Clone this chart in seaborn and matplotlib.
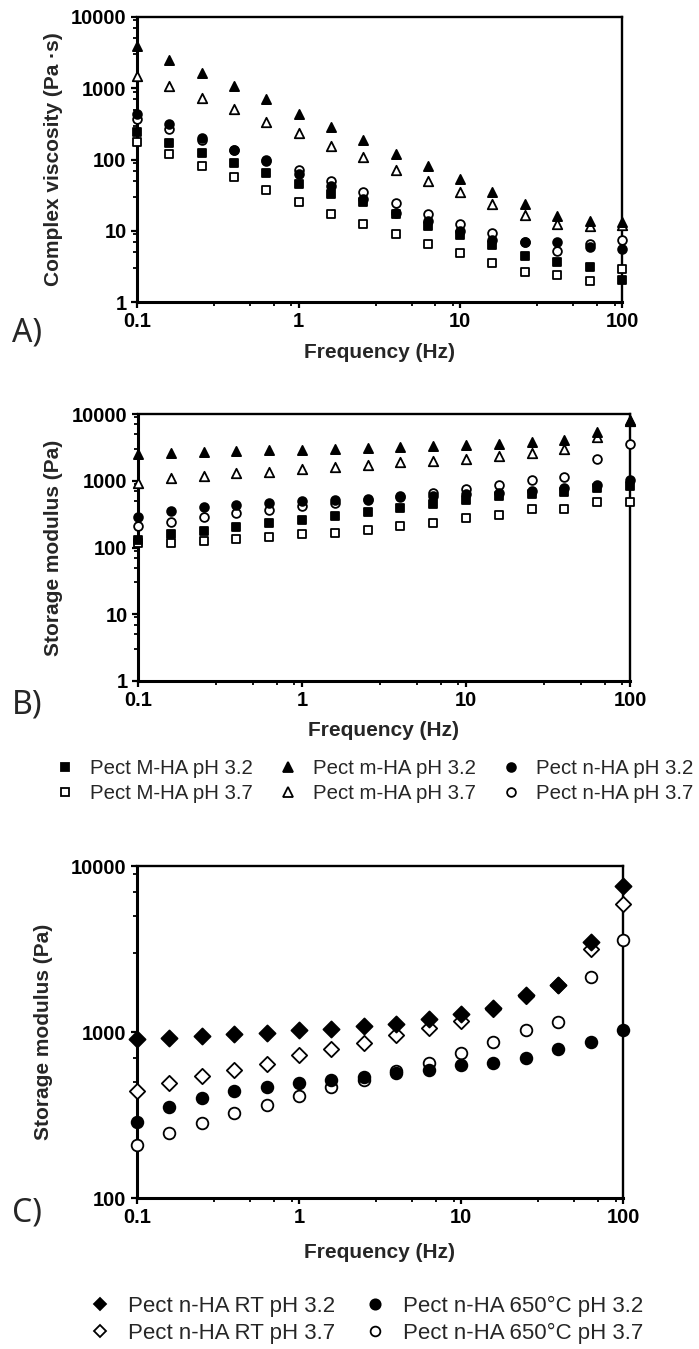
import matplotlib
matplotlib.use("Agg")
import matplotlib.pyplot as plt
import seaborn as sns
from matplotlib.ticker import LogLocator, NullFormatter
from matplotlib.lines import Line2D

# ---------------- data ----------------
freq = [0.1, 0.158, 0.251, 0.398, 0.631, 1.0, 1.58, 2.51, 3.98, 6.31,
        10.0, 15.8, 25.1, 39.8, 63.1, 100.0]

# Panel A: complex viscosity (Pa s)
A_MHA_32 = [244, 173, 123, 88, 64, 46, 33, 25, 17, 11.8, 8.6, 6.3, 4.4, 3.7, 3.1, 2.05]
A_MHA_37 = [177, 121, 81, 56, 37.7, 25.6, 17.2, 12.5, 9.0, 6.5, 4.9, 3.5, 2.6, 2.36, 2.0, 2.9]
A_mHA_32 = [3900, 2520, 1650, 1070, 698, 440, 286, 186, 121, 80, 53, 35, 24, 16, 13.8, 13.4]
A_mHA_37 = [1480, 1070, 736, 505, 340, 233, 155, 107, 72, 50, 34.5, 23.7, 16.8, 12.5, 11.6, 12.2]
A_nHA_32 = [440, 312, 203, 136, 98, 62, 43, 28, 18, 13.9, 10, 7.3, 6.9, 6.9, 5.9, 5.6]
A_nHA_37 = [366, 265, 186, 136, 96, 71, 50, 34.5, 24.5, 17.2, 12.5, 9.3, 6.9, 5.2, 6.5, 7.3]

# Panel B: storage modulus (Pa)
B_MHA_32 = [130, 160, 179, 206, 231, 259, 301, 337, 387, 450, 517, 593, 628, 690, 774, 839]
B_MHA_37 = [116, 118, 125, 134, 146, 158, 167, 183, 213, 236, 281, 304, 379, 379, 488, 488]
B_mHA_32 = [2500, 2600, 2650, 2750, 2850, 2900, 3000, 3100, 3150, 3300, 3400, 3600, 3750, 4100, 5300, 8200]
B_mHA_37 = [920, 1090, 1185, 1300, 1360, 1490, 1600, 1730, 1880, 1950, 2110, 2310, 2590, 2980, 4520, 7760]
B_nHA_32 = [288, 355, 400, 439, 464, 492, 515, 533, 565, 589, 631, 655, 701, 787, 871, 1023]
B_nHA_37 = [209, 245, 282, 324, 365, 413, 468, 515, 583, 655, 752, 871, 1023, 1148, 2138, 3565]

# Panel C: storage modulus (Pa)
C_RT_32 = [903, 916, 946, 968, 991, 1023, 1047, 1086, 1112, 1191, 1276, 1387, 1660, 1932, 3485, 7620]
C_RT_37 = [439, 490, 540, 591, 646, 724, 787, 863, 955, 1060, 1165, 1380, 1650, 1925, 3177, 5915]
C_650_32 = [288, 355, 400, 439, 464, 492, 515, 533, 565, 589, 631, 655, 701, 787, 871, 1023]
C_650_37 = [209, 245, 282, 324, 365, 413, 468, 515, 583, 655, 752, 871, 1023, 1148, 2138, 3565]

labels_AB = ["Pect M-HA pH 3.2", "Pect M-HA pH 3.7", "Pect m-HA pH 3.2",
             "Pect m-HA pH 3.7", "Pect n-HA pH 3.2", "Pect n-HA pH 3.7"]
labels_C = ["Pect n-HA RT pH 3.2", "Pect n-HA RT pH 3.7",
            "Pect n-HA 650°C pH 3.2", "Pect n-HA 650°C pH 3.7"]

x_ticks = [0.1, 1, 10, 100]
x_ticklabels = ["0.1", "1", "10", "100"]
yAB_ticks = [1, 10, 100, 1000, 10000]
yAB_ticklabels = ["1", "10", "100", "1000", "10000"]
yC_ticks = [100, 1000, 10000]
yC_ticklabels = ["100", "1000", "10000"]

# ---------------- figure ----------------
sns.set_theme(style="ticks")
plt.rcParams['font.family'] = ['Liberation Sans', 'DejaVu Sans']
plt.rcParams['axes.edgecolor'] = 'black'

W, H = 699, 1349
fig = plt.figure(figsize=(W / 100, H / 100), dpi=100)


def ax_at(l, t, r, b):
    return fig.add_axes([l / W, 1 - b / H, (r - l) / W, (b - t) / H])


axA = ax_at(137, 17, 622, 302)
axB = ax_at(138, 414, 630, 681)
axC = ax_at(137, 866, 623, 1198)

# marker specs: (marker, filled, size in points)
spec_AB = [("s", True, 5.2), ("s", False, 5.6), ("^", True, 6.6),
           ("^", False, 6.8), ("o", True, 6.3), ("o", False, 6.3)]
spec_C = [("D", True, 8.2), ("D", False, 7.8), ("o", True, 8.4), ("o", False, 8.4)]
spec_C_leg = [("D", True, 6.6), ("D", False, 6.4), ("o", True, 7.4), ("o", False, 7.0)]


def draw(ax, y, marker, filled, ms, z):
    sns.scatterplot(x=freq, y=y, ax=ax, marker=marker, s=ms ** 2,
                    facecolor='black' if filled else 'white',
                    edgecolor='black', linewidth=1.3, clip_on=False,
                    zorder=z, legend=False)


A_series = [A_MHA_32, A_MHA_37, A_mHA_32, A_mHA_37, A_nHA_32, A_nHA_37]
B_series = [B_MHA_32, B_MHA_37, B_mHA_32, B_mHA_37, B_nHA_32, B_nHA_37]
C_series = [C_RT_32, C_RT_37, C_650_32, C_650_37]

# draw open markers first, filled on top
for ax, series in ((axA, A_series), (axB, B_series)):
    order = [1, 3, 5, 0, 2, 4]
    for k, i in enumerate(order):
        m, f, ms = spec_AB[i]
        draw(ax, series[i], m, f, ms, 5 + k)
for k, i in enumerate([1, 3, 0, 2]):
    m, f, ms = spec_C[i]
    draw(axC, C_series[i], m, f, ms, 5 + k)


def style(ax, yticks, yticklabels, ylabel, ylab_x, xlab_y):
    ax.set_xscale('log')
    ax.set_yscale('log')
    ax.set_xlim(0.1, 100)
    ax.set_ylim(yticks[0], yticks[-1])
    ax.set_xticks(x_ticks, x_ticklabels, fontsize=14.5, fontweight='bold')
    ax.set_yticks(yticks, yticklabels, fontsize=14.5, fontweight='bold')
    ax.xaxis.set_minor_locator(LogLocator(base=10, subs=(3, 5, 7, 9), numticks=20))
    ax.yaxis.set_minor_locator(LogLocator(base=10, subs=(3, 5, 7, 9), numticks=20))
    ax.xaxis.set_minor_formatter(NullFormatter())
    ax.yaxis.set_minor_formatter(NullFormatter())
    for s in ('left', 'bottom'):
        ax.spines[s].set_linewidth(2.2)
        ax.spines[s].set_color('black')
    for s in ('top', 'right'):
        ax.spines[s].set_linewidth(1.7)
        ax.spines[s].set_color('black')
        ax.spines[s].set_visible(True)
    ax.tick_params(which='major', length=4.5, width=1.6, direction='out',
                   pad=3, colors='black')
    ax.tick_params(which='minor', length=3, width=1.3, direction='out',
                   colors='black')
    ax.tick_params(top=False, right=False, which='both')
    ax.set_xlabel("Frequency (Hz)", fontsize=15, fontweight='bold')
    ax.set_ylabel(ylabel, fontsize=15, fontweight='bold')
    ax.xaxis.set_label_coords(0.5, xlab_y)
    ax.yaxis.set_label_coords(ylab_x, 0.5)
    ax.set_facecolor('white')


style(axA, yAB_ticks, yAB_ticklabels, "Complex viscosity (Pa \u00b7s)", -0.153, -0.144)
style(axB, yAB_ticks, yAB_ticklabels, "Storage modulus (Pa)", -0.152, -0.15)
style(axC, yC_ticks, yC_ticklabels, "Storage modulus (Pa)", -0.173, -0.1355)

# panel letters
for txt, y in (("A)", 333), ("B)", 705), ("C)", 1213)):
    fig.text(27 / W, 1 - y / H, txt, fontsize=23, family=['Noto Sans', 'DejaVu Sans'],
             ha='center', va='center')


def handle(marker, filled, ms):
    return Line2D([], [], linestyle='none', marker=marker, markersize=ms,
                  markerfacecolor='black' if filled else 'white',
                  markeredgecolor='black', markeredgewidth=1.3)


hB = [handle(*s) for s in spec_AB]
fig.legend(hB, labels_AB, ncol=3, loc='upper left',
           bbox_to_anchor=(55 / W, 1 - 759 / H), frameon=False, fontsize=14.7,
           handlelength=1.0, handletextpad=0.7, columnspacing=1.25,
           labelspacing=0.3, borderpad=0, borderaxespad=0)

hC = [handle(*s) for s in spec_C_leg]
fig.legend(hC, labels_C, ncol=2, loc='upper left',
           bbox_to_anchor=(89 / W, 1 - 1296 / H), frameon=False, fontsize=16,
           handlelength=1.0, handletextpad=0.75, columnspacing=1.3,
           labelspacing=0.25, borderpad=0, borderaxespad=0)

fig.savefig("out.png", dpi=100, facecolor='white')
